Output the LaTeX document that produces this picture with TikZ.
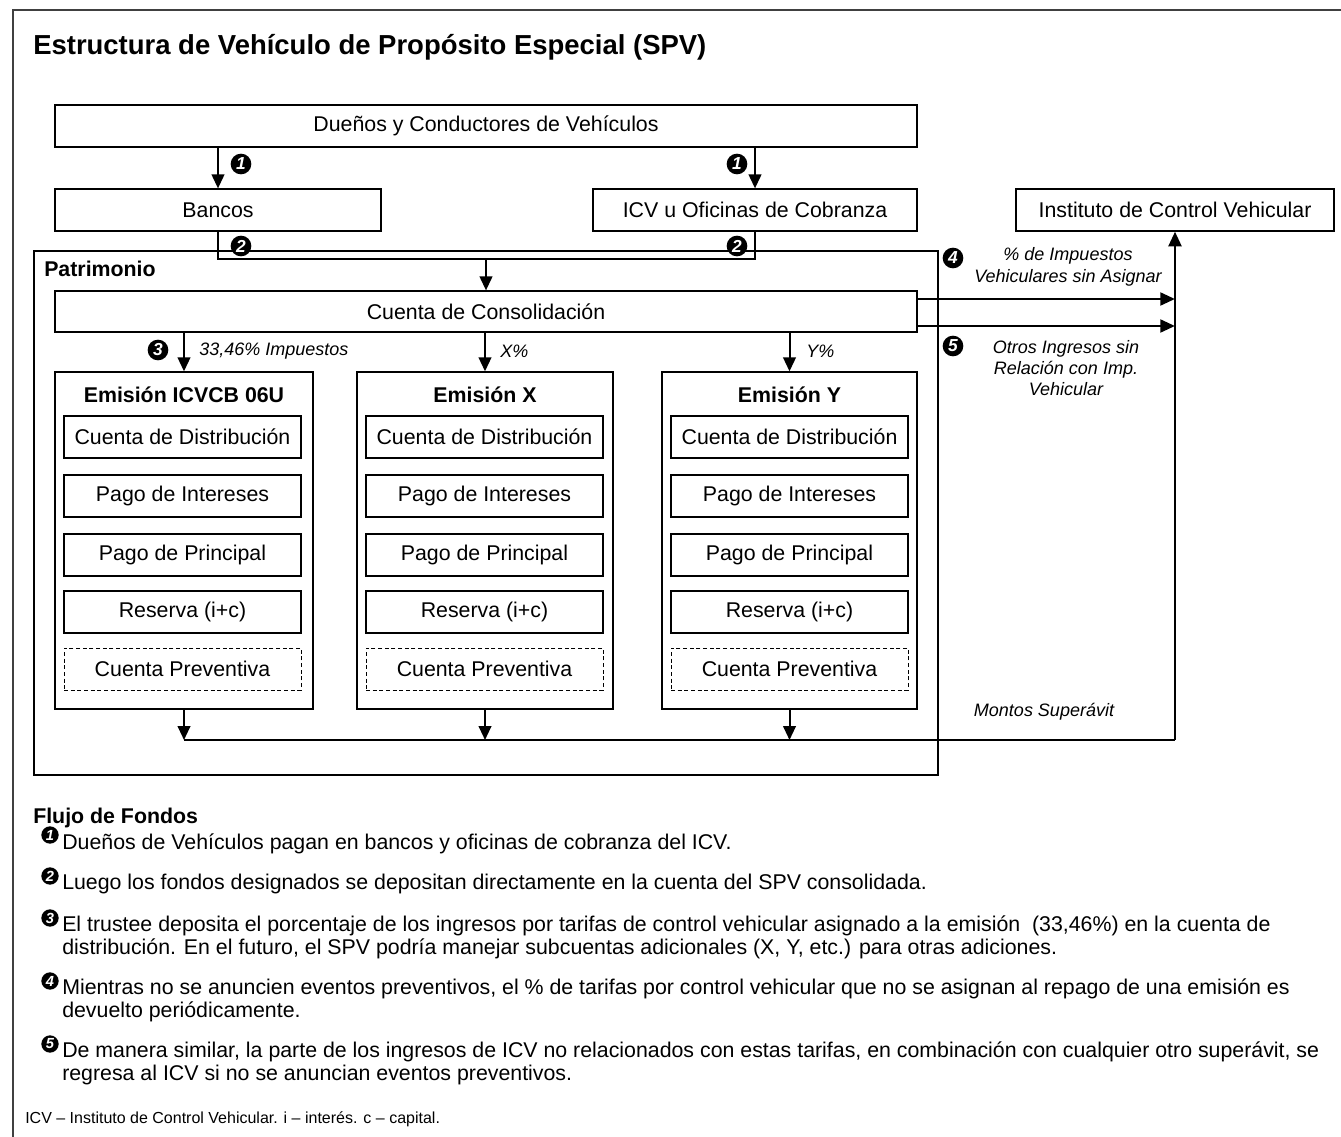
\documentclass[tikz,border=0pt]{standalone}
\usepackage{fontspec}
\setmainfont{Liberation Sans}
\usetikzlibrary{arrows.meta}
\begin{document}
\begin{tikzpicture}[x=0.75pt,y=-0.75pt,
  sz/.style 2 args={minimum width=#1*0.75pt,minimum height=#2*0.75pt},
  box/.style={draw,line width=0.9pt,inner sep=0pt,font=\fontsize{16}{19}\selectfont},
  dbox/.style={box,line width=0.7pt,dash pattern=on 3pt off 2pt},
  ebox/.style={draw,line width=1pt,inner sep=0pt},
  ttl/.style={inner sep=0pt,font=\fontsize{16}{19}\selectfont\bfseries},
  conn/.style={line width=1.5pt},
  arr/.style={line width=1.5pt,-{Triangle[length=10.5pt,width=9.5pt]}},
  bigarr/.style={line width=2.2pt,-{Triangle[length=11pt,width=9.5pt]}},
  num/.style={circle,fill=black,text=white,inner sep=0pt,minimum size=15.5pt,font=\fontsize{13}{13}\selectfont\bfseries\itshape},
  snum/.style={num,minimum size=13pt,font=\fontsize{11}{11}\selectfont\bfseries\itshape},
  lab/.style={inner sep=0pt,font=\fontsize{13.5}{16}\selectfont\itshape},
  txt/.style={anchor=base west,inner sep=0pt,font=\fontsize{16}{19}\selectfont},
]
\useasboundingbox (0,0) rectangle (1341,1137);
% outer frame
\draw[line width=1.3pt,black!75] (13,1137) -- (13,10) -- (1341,10);

% title
\node[anchor=base west,inner sep=0pt,font=\fontsize{20.6}{24}\selectfont\bfseries] (title) at (33,55) {Estructura de Vehículo de Propósito Especial (SPV)};

% top boxes
\node[box,sz={862}{42}] (duenos) at (486,126) {Dueños y Conductores de Vehículos};
\node[box,sz={326}{42}] (bancos) at (218,210) {Bancos};
\node[box,sz={324}{42}] (icv) at (755,210) {ICV u Oficinas de Cobranza};
\node[box,sz={318}{42}] (inst) at (1175,210) {Instituto de Control Vehicular};

% patrimonio
\node[draw,line width=0.8pt,inner sep=0pt,sz={904}{524}] (patr) at (486,513) {};
\node[txt,font=\fontsize{16}{19}\selectfont\bfseries] (patrl) at (44,277) {Patrimonio};
\node[box,sz={862}{41}] (cons) at (486,311.5) {Cuenta de Consolidación};

% emission boxes
\node[ebox,sz={258}{337}] (e1) at (184,540.5) {};
\node[ebox,sz={256}{337}] (e2) at (485,540.5) {};
\node[ebox,sz={255}{337}] (e3) at (789.5,540.5) {};
\node[ttl] (t1) at (184,395) {Emisión ICVCB 06U};
\node[ttl] (t2) at (485,395) {Emisión X};
\node[ttl] (t3) at (789.5,395) {Emisión Y};
\foreach \n/\cx in {1/182.5,2/484.5,3/789.5} {
  \node[box,sz={237}{42}] (dist\n) at (\cx,437) {Cuenta de Distribución};
  \node[box,sz={237}{42}] (int\n) at (\cx,496) {Pago de Intereses};
  \node[box,sz={237}{42}] (prin\n) at (\cx,555) {Pago de Principal};
  \node[box,sz={237}{42}] (res\n) at (\cx,612) {Reserva (i+c)};
  \node[dbox,sz={237}{42}] (prev\n) at (\cx,669) {Cuenta Preventiva};
}

% flow 1
\draw[arr] (bancos.north |- duenos.south) -- (bancos.north);
\draw[arr] (icv.north |- duenos.south) -- (icv.north);
\node[num] (n1a) at (241,164) {1};
\node[num] (n1b) at (737,164) {1};

% flow 2
\coordinate (j2) at (486,259);
\draw[conn] (bancos.south) |- (j2) -| (icv.south);
\draw[arr] (j2) -- (cons.north);
\node[num] (n2a) at (241,246) {2};
\node[num] (n2b) at (737,246) {2};

% flow 3
\draw[arr] (e1.north |- cons.south) -- (e1.north);
\draw[arr] (e2.north |- cons.south) -- (e2.north);
\draw[arr] (e3.north |- cons.south) -- (e3.north);
\node[num] (n3) at (158,350) {3};
\node[lab,anchor=west] (l3) at (199,351) {33,46\% Impuestos};
\node[lab,anchor=west] (lx) at (500,351) {X\%};
\node[lab,anchor=west] (ly) at (806,351) {Y\%};

% flows 4,5
\coordinate (y4) at (0,299);
\coordinate (y5) at (0,326);
\coordinate (yb) at (0,740);
\draw[bigarr] (cons.east |- y4) -- (inst.south |- y4);
\draw[bigarr] (cons.east |- y5) -- (inst.south |- y5);
\node[num] (n4) at (953,258) {4};
\node[lab,align=center] (l4) at (1068,267) {\% de Impuestos\\Vehiculares sin Asignar};
\node[num] (n5) at (953,346) {5};
\node[lab,align=center] (l5) at (1066,368) {Otros Ingresos sin\\Relación con Imp.\\Vehicular};

% surplus
\draw[arr] (e1.south) -- (e1.south |- yb);
\draw[arr] (e2.south) -- (e2.south |- yb);
\draw[arr] (e3.south) -- (e3.south |- yb);
\draw[conn] (e1.south |- yb) -- (inst.south |- yb);
\draw[bigarr] (inst.south |- yb) -- (inst.south);
\node[lab] (ms) at (1044,712) {Montos Superávit};

% legend
\node[txt,font=\fontsize{16}{19}\selectfont\bfseries] (ff) at (33,823) {Flujo de Fondos};
\node[snum] (s1) at (50,835) {1};
\node[txt] (f1) at (62,849) {Dueños de Vehículos pagan en bancos y oficinas de cobranza del ICV.};
\node[snum] (s2) at (50,876) {2};
\node[txt] (f2) at (62,889) {Luego los fondos designados se depositan directamente en la cuenta del SPV consolidada.};
\node[snum] (s3) at (50,918) {3};
\node[txt] (f3a) at (62,931) {El trustee deposita el porcentaje de los ingresos por tarifas de control vehicular asignado a la emisión\ \ (33,46\%) en la cuenta de};
\node[txt] (f3b) at (62,954) {distribución. En el futuro, el SPV podría manejar subcuentas adicionales (X, Y, etc.) para otras adiciones.};
\node[snum] (s4) at (50,981) {4};
\node[txt] (f4a) at (62,994) {Mientras no se anuncien eventos preventivos, el \% de tarifas por control vehicular que no se asignan al repago de una emisión es};
\node[txt] (f4b) at (62,1017) {devuelto periódicamente.};
\node[snum] (s5) at (50,1044) {5};
\node[txt] (f5a) at (62,1057) {De manera similar, la parte de los ingresos de ICV no relacionados con estas tarifas, en combinación con cualquier otro superávit, se};
\node[txt] (f5b) at (62,1080) {regresa al ICV si no se anuncian eventos preventivos.};
\node[txt,font=\fontsize{12}{14}\selectfont] (foot) at (25,1123) {ICV – Instituto de Control Vehicular. i – interés. c – capital.};
\end{tikzpicture}
\end{document}
